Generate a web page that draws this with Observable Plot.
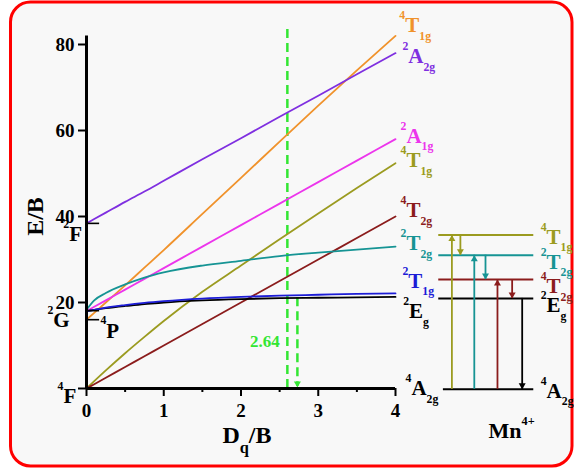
<!DOCTYPE html>
<html><head><meta charset="utf-8">
<script src="https://cdn.jsdelivr.net/npm/d3@7"></script>
<script src="https://cdn.jsdelivr.net/npm/@observablehq/plot@0.6"></script>
<style>body{margin:0;background:#fff}</style>
</head><body><div id="chart"></div>
<script>
// ---- data (Tanabe–Sugano d3, E/B vs Dq/B) ----
const dq      = [0, 0.1, 0.25, 0.5, 0.75, 1, 1.5, 2, 2.5, 3, 3.5, 4];
const e4T1gP  = [16, 17.6, 20, 24, 28.1, 32.2, 40.6, 49, 57.4, 65.8, 74, 82];
const e2A2g   = [38.4, 39.4, 40.9, 43.4, 45.8, 48.3, 53.3, 58.2, 63.2, 68.1, 73.1, 78];
const e2A1g   = [18, 19, 20.5, 23, 25.5, 28, 33, 38, 43, 48, 53, 58];
const e4T1gF  = [0, 1.7, 4.2, 8.2, 12, 15.7, 22.5, 28.6, 34.7, 40.7, 46.6, 52.4];
const e4T2g   = [0, 1, 2.5, 5, 7.5, 10, 15, 20, 25, 30, 35, 40];
const e2T2g   = [18.3, 20.5, 22.2, 24.2, 25.8, 27, 28.6, 29.7, 30.8, 31.6, 32.3, 33];
const e2T1g   = [18, 18.3, 18.8, 19.4, 19.9, 20.3, 20.9, 21.3, 21.6, 21.8, 22, 22.1];
const e2Eg    = [18, 18.3, 18.7, 19.2, 19.6, 20, 20.5, 20.8, 21, 21.1, 21.2, 21.3];

const seriesNames  = ["4T1g(P)", "2A2g", "2A1g", "4T1g(F)", "4T2g", "2T2g", "2Eg", "2T1g"];
const seriesValues = [e4T1gP, e2A2g, e2A1g, e4T1gF, e4T2g, e2T2g, e2Eg, e2T1g];

const freeIonTerms = ["2F", "2G", "4P", "4F"];
const freeIonE     = [38.4, 18.1, 16, 0];

const crystalDq = 2.64;
const xTicks = [0, 1, 2, 3, 4];
const yTicks = [20, 40, 60, 80];

// energy levels of Mn4+ at Dq/B = 2.64
const levelTerms = ["4T1g", "2T2g", "4T2g", "2Eg", "4A2g"];
const levelE     = [35.7, 31.0, 25.35, 20.95, -0.2];
const transFrom  = ["4A2g", "4T1g", "4A2g", "2T2g", "4A2g", "4T2g", "2Eg"];
const transTo    = ["4T1g", "2T2g", "2T2g", "4T2g", "4T2g", "2Eg", "4A2g"];

// ---- styles / layout ----
const C = {
  "4T1g(P)": "#f0922b", "2A2g": "#7f2fe0", "2A1g": "#ec35ec", "4T1g(F)": "#9b9b20",
  "4T2g": "#8b1c1c", "2T2g": "#169494", "2T1g": "#1c1cd6", "2Eg": "#000000",
  "4T1g": "#9b9b20", "4A2g": "#000000"
};
const green = "#33e633";
const markup = {
  "4T1g(P)": "^{4}T_{1g}", "4T1g(F)": "^{4}T_{1g}", "4T1g": "^{4}T_{1g}",
  "2A2g": "^{2}A_{2g}", "2A1g": "^{2}A_{1g}", "4T2g": "^{4}T_{2g}",
  "2T2g": "^{2}T_{2g}", "2T1g": "^{2}T_{1g}", "2Eg": "^{2}E_{g}", "4A2g": "^{4}A_{2g}",
  "2F": "^{2}F", "2G": "^{2}G", "4P": "^{4}P", "4F": "^{4}F"
};
// annotation anchors (data units)
const endLabels = [
  {k: "4T1g(P)", x: 4.05, y: 82.8}, {k: "2A2g", x: 4.09, y: 75.6}, {k: "2A1g", x: 4.065, y: 57.2},
  {k: "4T1g(F)", x: 4.065, y: 51.4}, {k: "4T2g", x: 4.065, y: 39.8}, {k: "2T2g", x: 4.065, y: 32.1},
  {k: "2T1g", x: 4.09, y: 23.3}, {k: "2Eg", x: 4.10, y: 16.3}, {k: "4A2g", x: 4.13, y: -1.6}
];
const freeLabels = [
  {k: "2F", x: -0.30, y: 34.2}, {k: "2G", x: -0.505, y: 14.4},
  {k: "4P", x: 0.181, y: 11.86}, {k: "4F", x: -0.375, y: -3.26}
];
const levelLabelY = [33.7, 27.9, 22.1, 17.7, -2.1];
const arrowX = [4.73, 4.84, 5.02, 5.165, 5.32, 5.51, 5.64];

const eOf = t => levelE[levelTerms.indexOf(t)];
const transitions = transFrom.map((f, i) => {
  const a = eOf(f), b = eOf(transTo[i]);
  const upper = a > b ? f : transTo[i];
  return {x: arrowX[i], from: a, to: b, color: C[upper], up: b > a};
});
const levels = levelTerms.map((t, i) => ({t, e: levelE[i]}));
const levelLabels = levelTerms.map((t, i) => ({k: t, x: 5.88, y: levelLabelY[i]}));

const font = "'Liberation Serif','Times New Roman',serif";
const lines = seriesNames.map((n, j) =>
  Plot.line(dq.map((x, i) => ({x, y: seriesValues[j][i]})),
    {x: "x", y: "y", stroke: C[n], strokeWidth: 1.8, curve: "monotone-x"}));

const termText = (rows, size) => Plot.text(rows, {
  x: "x", y: "y", text: d => markup[d.k], fill: d => C[d.k] ?? "#000",
  fontSize: size, fontWeight: "bold", textAnchor: "start", lineAnchor: "bottom"
});

const plot = Plot.plot({
  width: 574, height: 470,
  marginLeft: 86, marginRight: 179, marginTop: 44, marginBottom: 82,
  x: {domain: [0, 4]}, y: {domain: [0, 80]},
  style: {fontFamily: font, background: "white", overflow: "visible"},
  marks: [
    Plot.frame({fill: "#f8f8f8", stroke: "#ff0000", strokeWidth: 3, rx: 20,
      insetLeft: -76, insetRight: -176.5, insetTop: -42.5, insetBottom: -77.5}),
    // green guide at Dq/B = 2.64
    Plot.ruleX([crystalDq - 0.04], {y1: 0, y2: 83.7, stroke: green, strokeWidth: 2.5, strokeDasharray: "9,5"}),
    Plot.ruleX([crystalDq + 0.09], {y1: e2Eg[e2Eg.length - 1] - 0.2, y2: 0.5, stroke: green, strokeWidth: 2.5, strokeDasharray: "9,5"}),
    Plot.dot([crystalDq + 0.09], {x: d => d, y: 0, symbol: "triangle", r: 2.6, rotate: 180, fill: green, dy: -5}),
    Plot.text([crystalDq.toFixed(2)], {x: 2.5, y: 9.6, text: d => d, fill: green, fontSize: 17,
      fontWeight: "bold", textAnchor: "end", lineAnchor: "bottom"}),
    ...lines,
    // free-ion level markers
    Plot.ruleY(freeIonE.slice(0, 3), {x1: 0, x2: 0.17, stroke: "#000", strokeWidth: 1.6}),
    // axes
    Plot.ruleX([0], {y1: 0, y2: 82, strokeWidth: 3}),
    Plot.ruleY([0], {x1: 0, x2: 4, strokeWidth: 3}),
    Plot.axisY({ticks: yTicks, tickSize: 8, tickPadding: 4, tickFormat: d => String(d), fontSize: 19, fontWeight: "bold", strokeWidth: 2, label: null}),
    Plot.axisY({ticks: [0], tickSize: 8, tickFormat: () => "", strokeWidth: 2, label: null}),
    Plot.axisX({ticks: xTicks, tickSize: 8, tickPadding: 7, tickFormat: d => String(d), fontSize: 19, fontWeight: "bold", strokeWidth: 2, label: null}),
    Plot.axisX({ticks: [0.5, 1.5, 2.5, 3.5], tickSize: 4, tickFormat: () => "", strokeWidth: 2, label: null}),
    Plot.text(["E/B"], {frameAnchor: "left", text: d => d, dx: -44, rotate: -90, fontSize: 24,
      fontWeight: "bold", textAnchor: "middle", lineAnchor: "bottom"}),
    Plot.text(["D~{q}/B"], {frameAnchor: "bottom", text: d => d, dx: 6, dy: 54, fontSize: 24,
      fontWeight: "bold", textAnchor: "middle", lineAnchor: "bottom"}),
    // labels
    termText(endLabels, 21),
    termText(freeLabels, 21),
    // energy-level diagram
    Plot.ruleY(levels.slice(0, 4), {y: "e", x1: 4.56, x2: 5.79, stroke: d => C[d.t], strokeWidth: 2}),
    Plot.ruleY(levels.slice(4), {y: "e", x1: 4.62, x2: 5.79, stroke: d => C[d.t], strokeWidth: 2}),
    Plot.ruleX(transitions, {x: "x", y1: "from", y2: "to", stroke: "color", strokeWidth: 1.8}),
    Plot.dot(transitions.filter(d => d.up), {x: "x", y: "to", symbol: "triangle", r: 2.6, fill: "color", dy: 4}),
    Plot.dot(transitions.filter(d => !d.up), {x: "x", y: "to", symbol: "triangle", r: 2.6, rotate: 180, fill: "color", dy: -4}),
    termText(levelLabels, 21),
    Plot.text(["Mn^{4+}"], {x: 5.204, y: -11.6, text: d => d, fontSize: 22, fontWeight: "bold",
      textAnchor: "start", lineAnchor: "bottom"})
  ]
});

// rich text: ^{sup}, _{sub}, ~{large sub}
const NS = "http://www.w3.org/2000/svg";
plot.querySelectorAll("text").forEach(t => {
  const s = t.textContent;
  if (!/[\^_~]\{/.test(s)) return;
  const g = t.closest("[font-size]");
  const fs = parseFloat(t.getAttribute("font-size") || (g && g.getAttribute("font-size"))) || 10;
  const parts = s.match(/(\^\{[^}]*\}|_\{[^}]*\}|~\{[^}]*\}|[^\^_~]+)/g);
  t.textContent = "";
  let shift = 0;
  for (const m of parts) {
    let txt = m, size = fs, target = 0;
    if (m.startsWith("^{")) { txt = m.slice(2, -1); size = 0.56 * fs; target = -0.62 * fs; }
    else if (m.startsWith("_{")) { txt = m.slice(2, -1); size = 0.56 * fs; target = 0.34 * fs; }
    else if (m.startsWith("~{")) { txt = m.slice(2, -1); size = 0.68 * fs; target = 0.42 * fs; }
    const ts = document.createElementNS(NS, "tspan");
    ts.setAttribute("font-size", size);
    if (target !== shift) ts.setAttribute("dy", target - shift);
    shift = target;
    ts.textContent = txt;
    t.appendChild(ts);
  }
});
document.getElementById("chart").appendChild(plot);
</script>
</body></html>
